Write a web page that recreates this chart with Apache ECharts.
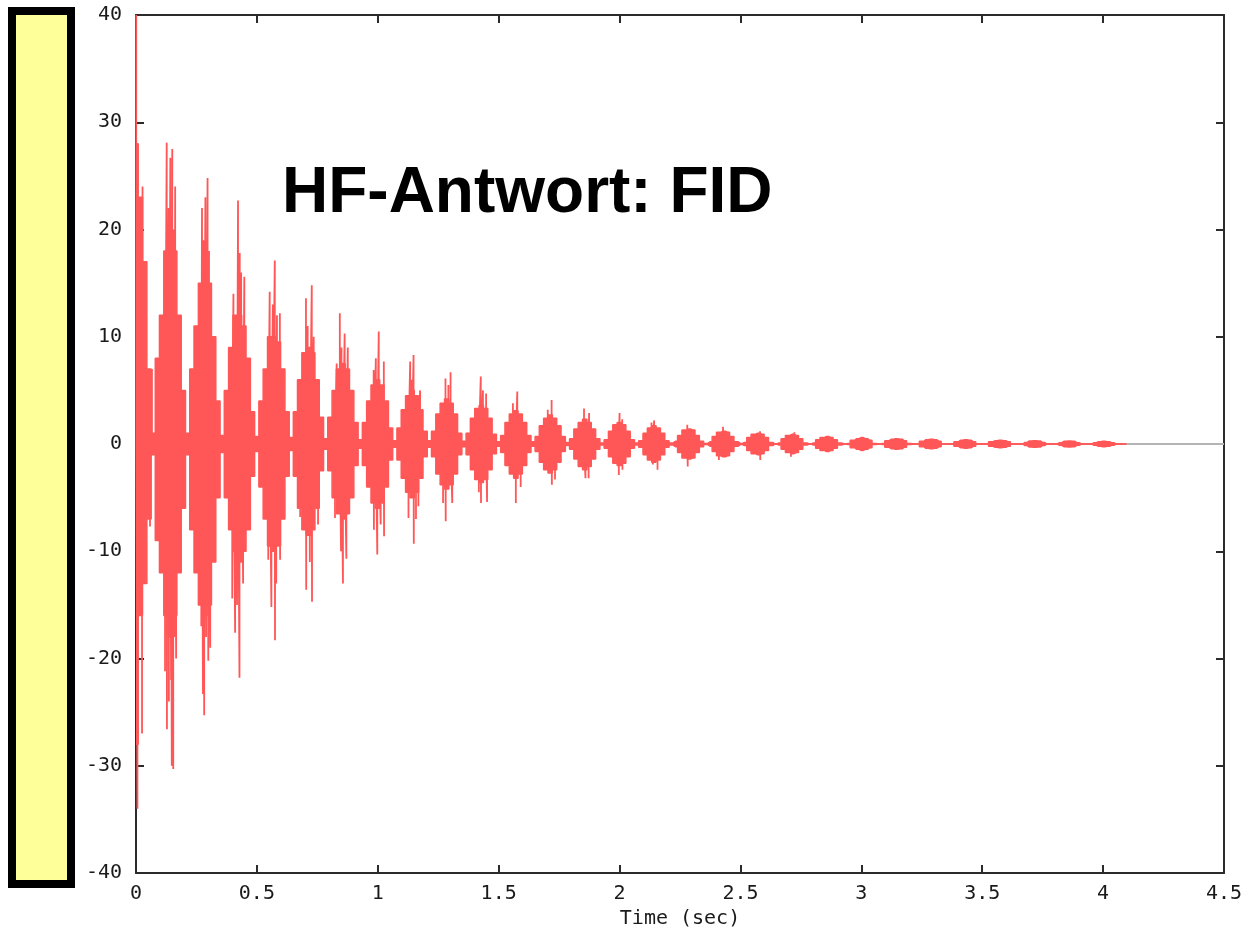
<!DOCTYPE html>
<html>
<head>
<meta charset="utf-8">
<script src="https://cdn.jsdelivr.net/npm/echarts@6/dist/echarts.min.js"></script>
<style>
html,body{margin:0;padding:0;background:#fff;overflow:hidden;}
#chart{width:1247px;height:927px;}
</style>
</head>
<body>
<div id="chart"></div>
<script>
// ---- data ----
const titleText = 'HF-Antwort: FID';
const xTitle = 'Time (sec)';
const xTicks = [0, 0.5, 1, 1.5, 2, 2.5, 3, 3.5, 4, 4.5];
const yTicks = [-40, -30, -20, -10, 0, 10, 20, 30, 40];

// burst centre times (s)
const burstT = [0, 0.142, 0.285, 0.428, 0.571, 0.713, 0.856, 0.999, 1.142, 1.285,
  1.428, 1.571, 1.713, 1.856, 1.999, 2.142, 2.285, 2.428, 2.571, 2.713,
  2.856, 2.999, 3.142, 3.285, 3.428, 3.571, 3.713, 3.856, 3.999];
// sample offsets inside each burst (last = node between bursts)
const sampleOffsets = [-0.054, -0.036, -0.018, 0, 0.018, 0.036, 0.054, 0.0714];
const signalEnd = 4.096;

// upper envelope of the dense oscillation, per burst
const envHigh = [
  [null, null, null, 28, 23, 17, 7, 1],
  [8, 12, 18, 19, 18, 12, 5, 1],
  [7, 11, 15, 16, 15, 10, 4, 0.8],
  [5, 9, 12, 12, 11, 8, 3, 0.7],
  [4, 7, 10, 10, 9.5, 7, 3, 0.6],
  [3, 6, 8.5, 9, 8.5, 6, 2.5, 0.5],
  [2.5, 5, 7, 7.5, 7, 5, 2, 0.4],
  [2, 4, 5.5, 6, 5.5, 4, 1.5, 0.3],
  [1.5, 3.2, 4.5, 5, 4.5, 3.2, 1.2, 0.3],
  [1.2, 2.8, 3.8, 4.2, 3.8, 2.8, 1, 0.25],
  [1, 2.4, 3.3, 3.6, 3.3, 2.4, 0.9, 0.2],
  [0.8, 2, 2.8, 3.1, 2.8, 2, 0.8, 0.2],
  [0.7, 1.7, 2.4, 2.7, 2.4, 1.7, 0.7, 0.15],
  [0.5, 1.4, 2, 2.3, 2, 1.4, 0.5, 0.1],
  [0.4, 1.2, 1.8, 2, 1.8, 1.2, 0.4, 0.1],
  [0.3, 1, 1.5, 1.7, 1.5, 1, 0.3, 0.1],
  [0.25, 0.8, 1.3, 1.4, 1.3, 0.8, 0.25, 0.05],
  [0.2, 0.7, 1.1, 1.2, 1.1, 0.7, 0.2, 0.05],
  [0.15, 0.6, 0.9, 1, 0.9, 0.6, 0.15, 0],
  [0.1, 0.5, 0.8, 0.9, 0.8, 0.5, 0.1, 0],
  [0.1, 0.4, 0.6, 0.7, 0.6, 0.4, 0.1, 0],
  [0.05, 0.35, 0.5, 0.6, 0.5, 0.35, 0.05, 0],
  [0.05, 0.3, 0.45, 0.5, 0.45, 0.3, 0.05, 0],
  [0, 0.25, 0.4, 0.45, 0.4, 0.25, 0, 0],
  [0, 0.2, 0.35, 0.4, 0.35, 0.2, 0, 0],
  [0, 0.2, 0.3, 0.35, 0.3, 0.2, 0, 0],
  [0, 0.15, 0.28, 0.3, 0.28, 0.15, 0, 0],
  [0, 0.12, 0.25, 0.28, 0.25, 0.12, 0, 0],
  [0, 0.12, 0.22, 0.25, 0.22, 0.12, 0, 0]
];
// lower envelope, per burst
const envLow = [
  [null, null, null, -28, -16, -13, -7, -1],
  [-9, -12, -16, -18, -16, -12, -6, -1],
  [-8, -12, -15, -16, -15, -11, -5, -0.8],
  [-5, -8, -10, -11, -10, -8, -3, -0.7],
  [-4, -7, -9.5, -10, -9.5, -7, -3, -0.6],
  [-3, -6, -8, -8.5, -8, -6, -2.5, -0.5],
  [-2.5, -5, -6.5, -7, -6.5, -5, -2, -0.4],
  [-2, -4, -5.5, -6, -5.5, -4, -1.5, -0.3],
  [-1.5, -3.2, -4.5, -5, -4.5, -3.2, -1.2, -0.3],
  [-1.2, -2.8, -3.8, -4.2, -3.8, -2.8, -1, -0.25],
  [-1, -2.4, -3.3, -3.6, -3.3, -2.4, -0.9, -0.2],
  [-0.8, -2, -2.8, -3.2, -2.8, -2, -0.8, -0.2],
  [-0.7, -1.7, -2.4, -2.7, -2.4, -1.7, -0.7, -0.15],
  [-0.5, -1.4, -2.1, -2.4, -2.1, -1.4, -0.5, -0.1],
  [-0.4, -1.2, -1.8, -2, -1.8, -1.2, -0.4, -0.1],
  [-0.3, -1, -1.5, -1.7, -1.5, -1, -0.3, -0.1],
  [-0.25, -0.8, -1.3, -1.4, -1.3, -0.8, -0.25, -0.05],
  [-0.2, -0.7, -1.1, -1.2, -1.1, -0.7, -0.2, -0.05],
  [-0.15, -0.6, -0.9, -1, -0.9, -0.6, -0.15, 0],
  [-0.1, -0.5, -0.8, -0.9, -0.8, -0.5, -0.1, 0],
  [-0.1, -0.4, -0.6, -0.7, -0.6, -0.4, -0.1, 0],
  [-0.05, -0.35, -0.5, -0.6, -0.5, -0.35, -0.05, 0],
  [-0.05, -0.3, -0.45, -0.5, -0.45, -0.3, -0.05, 0],
  [0, -0.25, -0.4, -0.45, -0.4, -0.25, 0, 0],
  [0, -0.2, -0.35, -0.4, -0.35, -0.2, 0, 0],
  [0, -0.2, -0.3, -0.35, -0.3, -0.2, 0, 0],
  [0, -0.15, -0.28, -0.3, -0.28, -0.15, 0, 0],
  [0, -0.12, -0.25, -0.28, -0.25, -0.12, 0, 0],
  [0, -0.12, -0.22, -0.25, -0.22, -0.12, 0, 0]
];

// isolated spikes sticking out of the bursts
const spikeT = [
  0.001, 0.006, 0.025, 0.027, 0.058, 0.066,
  0.120, 0.127, 0.128, 0.135, 0.136, 0.142, 0.145, 0.148, 0.150, 0.154, 0.157, 0.160, 0.162, 0.166,
  0.270, 0.273, 0.277, 0.280, 0.282, 0.287, 0.290, 0.296, 0.299, 0.302, 0.307,
  0.398, 0.403, 0.410, 0.418, 0.422, 0.428, 0.429, 0.435, 0.438, 0.443, 0.448,
  0.547, 0.553, 0.560, 0.566, 0.574, 0.575, 0.580, 0.583, 0.595, 0.596,
  0.679, 0.703, 0.704, 0.710, 0.718, 0.719, 0.727, 0.728, 0.735, 0.753,
  0.823, 0.830, 0.843, 0.848, 0.850, 0.856, 0.863, 0.870, 0.876,
  0.983, 0.984, 0.992, 0.998, 1.004, 1.012, 1.025, 1.026,
  1.127, 1.134, 1.141, 1.148, 1.149, 1.158, 1.168, 1.175,
  1.270, 1.280, 1.281, 1.292, 1.301, 1.308,
  1.418, 1.426, 1.427, 1.435, 1.448, 1.452,
  1.559, 1.571, 1.577, 1.591,
  1.703, 1.719, 1.720, 1.733,
  1.853, 1.859, 1.872, 1.874,
  1.997, 2.000, 2.011, 2.012,
  2.132, 2.138, 2.143, 2.157,
  2.280, 2.282, 2.411, 2.428, 2.581, 2.582, 2.709, 2.723
];
const spikeV = [
  40, -34, -27, 24, -7.7, 7,
  -21.2, 28.1, -26.6, 22, -24, 26.7, -22, -30, 27.5, -30.3, 20, -18, 24, -20,
  -17, 22, -23.3, 19, -25.3, 23, -18, 24.8, -20.2, 18, -19,
  -14.4, 14, -17.6, -15, 22.7, -21.8, 17.8, 16, -10.5, -13, 15.6,
  -10.8, 14.2, -15.2, 13, 17.1, -18.3, -13, 12, 12.2, -10.8,
  -6.8, 13.6, -13.6, 11, 9, -11, 14.8, -14.7, 10, -7.5,
  -6.9, 7.5, 12.2, -10, 9, -13, 10.3, -10.7, 9,
  6.9, -8, 8, -10.3, 10.5, -7.5, 7.7, -8.6,
  -6.9, 7.7, 6, 8.3, -9.3, -7, -5.8, 5,
  -5.5, 6.1, -7.2, 5.5, 6.7, -5.5,
  -4.5, 6.3, -5.5, 5, 4.7, -5.4,
  3.8, -5.5, 4.9, -4,
  3.2, 4.1, -3.8, -3.3,
  3.3, -3.2, -3.2, 2.9,
  -2.9, 2.9, 2.3, -2.4,
  2, -1.9, 2.2, -2.4,
  1.8, -2.1, -1.5, 1.6, 1.2, -1.5, -1.2, 1.1
];

// zero baseline (grey, visible after the signal ends)
const baseT = [0, 4.5];
const baseV = [0, 0];

// ---- build tables ----
const upperData = [], lowerData = [];
burstT.forEach((c, k) => {
  sampleOffsets.forEach((o, j) => {
    const t = c + o;
    if (t < 0 || envHigh[k][j] == null) return;
    upperData.push([+t.toFixed(4), envHigh[k][j]]);
    lowerData.push([+t.toFixed(4), envLow[k][j]]);
  });
});
upperData.push([signalEnd, 0]);
lowerData.push([signalEnd, 0]);

const spikes = spikeT.map((t, i) => [t, spikeV[i]]).sort((a, b) => a[0] - b[0]);
const spikeData = [];
spikes.forEach(([t, v]) => { spikeData.push([t, 0], [t, v], [t, 0]); });

const baseData = baseT.map((t, i) => [t, baseV[i]]);

const RED = '#ff5757';
const AXIS = '#2b2b2b';
const MONO = 'DejaVu Sans Mono';

const chart = echarts.init(document.getElementById('chart'), null, {renderer: 'canvas'});
const axisCommon = {
  axisLine: {show: true, onZero: false, lineStyle: {color: AXIS, width: 2}},
  axisTick: {show: true, inside: true, length: 8, lineStyle: {color: AXIS, width: 2}},
  splitLine: {show: false}
};
chart.setOption({
  animation: false,
  backgroundColor: '#ffffff',
  grid: {left: 136, right: 23, top: 15, bottom: 54, containLabel: false, outerBoundsMode: 'none'},
  graphic: [
    {type: 'rect', shape: {x: 12, y: 11, width: 59, height: 873},
     style: {fill: '#ffff99', stroke: '#000000', lineWidth: 8}, z: 10},
    {type: 'text', x: 282, y: 194,
     style: {text: titleText, fill: '#000000', font: 'bold 64px "Liberation Sans", Arial, sans-serif',
             textAlign: 'left', textVerticalAlign: 'middle'}, z: 20}
  ],
  xAxis: [
    Object.assign({
      type: 'value', min: 0, max: 4.5, interval: 0.5, position: 'bottom',
      axisLabel: {show: true, color: '#1a1a1a', fontFamily: MONO, fontSize: 20, margin: 11,
                  formatter: v => String(xTicks.find(x => Math.abs(x - v) < 1e-9) ?? v)},
      name: xTitle, nameLocation: 'middle', nameGap: 32,
      nameTextStyle: {color: '#1a1a1a', fontFamily: MONO, fontSize: 20}
    }, axisCommon),
    Object.assign({
      type: 'value', min: 0, max: 4.5, interval: 0.5, position: 'top',
      axisLabel: {show: false}
    }, axisCommon)
  ],
  yAxis: [
    Object.assign({
      type: 'value', min: -40, max: 40, interval: 10, position: 'left',
      axisLabel: {show: true, color: '#1a1a1a', fontFamily: MONO, fontSize: 20, margin: 14,
                  formatter: v => String(yTicks.find(y => Math.abs(y - v) < 1e-9) ?? v)}
    }, axisCommon),
    Object.assign({
      type: 'value', min: -40, max: 40, interval: 10, position: 'right',
      axisLabel: {show: false}
    }, axisCommon)
  ],
  series: [
    {type: 'line', data: baseData, showSymbol: false, silent: true, z: 1,
     lineStyle: {color: '#b4b4b4', width: 2}},
    {type: 'line', data: upperData, step: 'middle', showSymbol: false, silent: true, z: 2,
     lineStyle: {color: RED, width: 1.5}, areaStyle: {color: RED, opacity: 1, origin: 0}},
    {type: 'line', data: lowerData, step: 'middle', showSymbol: false, silent: true, z: 2,
     lineStyle: {color: RED, width: 1.5}, areaStyle: {color: RED, opacity: 1, origin: 0}},
    {type: 'line', data: spikeData, showSymbol: false, silent: true, z: 3,
     lineStyle: {color: RED, width: 1.8}}
  ]
});
</script>
</body>
</html>
